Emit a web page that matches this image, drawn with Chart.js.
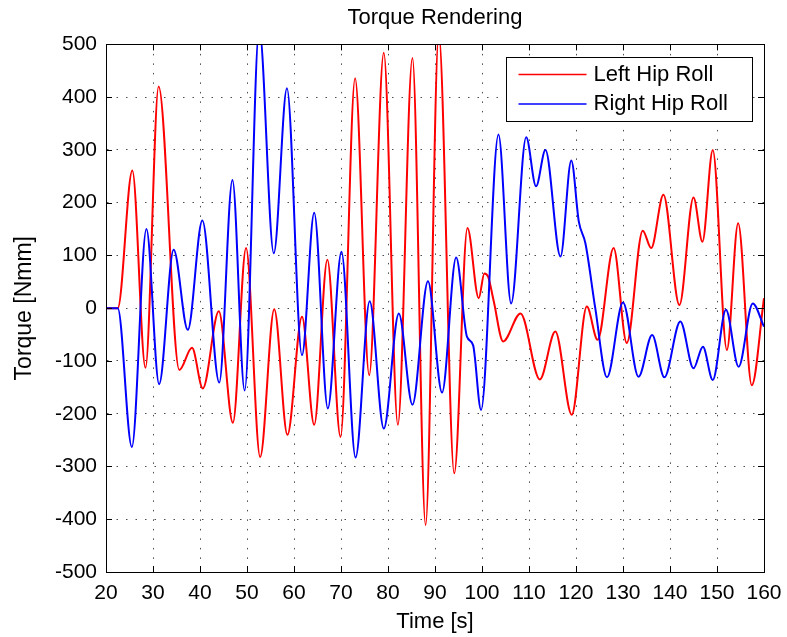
<!DOCTYPE html>
<html>
<head>
<meta charset="utf-8">
<title>Torque Rendering</title>
<script src="https://cdn.jsdelivr.net/npm/chart.js@4"></script>
<style>
  html, body { margin: 0; padding: 0; background: #fff; }
  #wrap { width: 787px; height: 637px; }
</style>
</head>
<body>
<div id="wrap"><canvas id="torqueChart"></canvas></div>
<script>
// Hip roll torque over time, peaks and troughs of each trace
const leftTime = [20, 22.5, 25.6, 28.4, 31.2, 35.6, 38.3, 40.6, 44.0, 47.0, 49.8, 52.8, 55.8, 58.6, 61.7, 64.3, 67.1, 69.9, 73.0, 76.0, 79.1, 82.1, 85.2, 88.0, 90.8, 94.1, 96.9, 99.3, 100.5, 101.3, 102.5, 104.5, 108.2, 112.3, 115.6, 119.1, 122.3, 124.6, 128.0, 130.8, 134.2, 136.0, 138.6, 142.0, 145.0, 146.9, 149.1, 152.1, 154.5, 157.4, 160];
const leftTorque = [0, 0, 261, -113, 420, -117, -75, -152, -6, -217, 114, -282, -2, -240, -16, -221, 92, -244, 436, -127, 484, -221, 474, -411, 520, -313, 152, 19, 66, 60, 13, -63, -10, -135, -44, -202, 3, -60, 114, -66, 147, 114, 215, 6, 210, 126, 300, -79, 161, -146, 19];

const rightTime = [20, 22.5, 25.5, 28.6, 31.3, 34.4, 37.4, 40.5, 44.1, 46.9, 49.5, 52.6, 55.7, 58.5, 61.7, 64.3, 67.2, 70.1, 73.1, 76.1, 79.1, 82.3, 85.2, 88.5, 91.5, 94.5, 96.8, 98.1, 99.8, 103.5, 106.2, 109.4, 111.5, 113.5, 116.7, 119.0, 120.6, 122.0, 124.1, 126.6, 130.0, 133.3, 136.2, 138.8, 142.2, 145.0, 147.0, 149.1, 151.9, 154.6, 157.6, 160];
const rightTorque = [0, 0, -263, 150, -144, 111, -41, 166, -141, 243, -156, 530, 104, 417, -89, 181, -190, 107, -283, 13, -228, -10, -183, 51, -160, 96, -54, -70, -193, 329, 9, 324, 231, 300, 98, 280, 164, 123, 0, -131, 11, -130, -51, -131, -25, -114, -73, -136, -3, -111, 9, -35];

const seriesNames = ["Left Hip Roll", "Right Hip Roll"];
const seriesColors = ["#ff0000", "#0000ff"];

const timeRange = [20, 160];
const torqueRange = [-500, 500];

const FONT = "'Liberation Sans', Arial, Helvetica, sans-serif";
Chart.defaults.font.family = FONT;
Chart.defaults.color = "#000";

function toPoints(xs, ys) {
  return xs.map((x, i) => ({ x: x, y: ys[i] }));
}

// box around the axes with inward tick marks on every side
const axesBox = {
  id: "axesBox",
  afterDraw(chart) {
    const { ctx, chartArea: a, scales } = chart;
    const len = 6;
    ctx.save();
    ctx.strokeStyle = "#000";
    ctx.lineWidth = 1;
    ctx.beginPath();
    scales.x.ticks.forEach((t) => {
      const px = Math.round(scales.x.getPixelForValue(t.value)) + 0.5;
      ctx.moveTo(px, a.bottom);
      ctx.lineTo(px, a.bottom - len);
      ctx.moveTo(px, a.top);
      ctx.lineTo(px, a.top + len);
    });
    scales.y.ticks.forEach((t) => {
      const py = Math.round(scales.y.getPixelForValue(t.value)) + 0.5;
      ctx.moveTo(a.left, py);
      ctx.lineTo(a.left + len, py);
      ctx.moveTo(a.right, py);
      ctx.lineTo(a.right - len, py);
    });
    ctx.stroke();
    ctx.strokeRect(Math.round(a.left) + 0.5, Math.round(a.top) + 0.5,
      Math.round(a.right - a.left), Math.round(a.bottom - a.top));
    ctx.restore();
  },
};

// framed legend in the upper right corner of the plot
const boxLegend = {
  id: "boxLegend",
  afterDraw(chart) {
    const { ctx, chartArea: a } = chart;
    const w = 246, h = 64;
    const x0 = Math.round(a.right - 12 - w) + 0.5;
    const y0 = Math.round(a.top + 13) + 0.5;
    ctx.save();
    ctx.fillStyle = "#fff";
    ctx.fillRect(x0, y0, w, h);
    ctx.strokeStyle = "#000";
    ctx.lineWidth = 1;
    ctx.strokeRect(x0, y0, w, h);
    ctx.font = "22px " + FONT;
    ctx.textBaseline = "middle";
    ctx.textAlign = "left";
    chart.data.datasets.forEach((ds, i) => {
      const yy = y0 + 17 + i * 29.5;
      ctx.strokeStyle = ds.borderColor;
      ctx.lineWidth = 1.3;
      ctx.beginPath();
      ctx.moveTo(x0 + 12, yy);
      ctx.lineTo(x0 + 80, yy);
      ctx.stroke();
      ctx.fillStyle = "#000";
      ctx.fillText(ds.label, x0 + 87, yy);
    });
    ctx.restore();
  },
};

const gridStyle = {
  color: "rgba(0,0,0,0.7)",
  lineWidth: 1,
  drawTicks: false,
};

new Chart(document.getElementById("torqueChart").getContext("2d"), {
  type: "line",
  data: {
    datasets: [
      {
        label: seriesNames[0],
        data: toPoints(leftTime, leftTorque),
        borderColor: seriesColors[0],
        borderWidth: 2,
        pointRadius: 0,
        cubicInterpolationMode: "monotone",
        clip: 0,
        order: 1,
      },
      {
        label: seriesNames[1],
        data: toPoints(rightTime, rightTorque),
        borderColor: seriesColors[1],
        borderWidth: 2,
        pointRadius: 0,
        cubicInterpolationMode: "monotone",
        clip: 0,
        order: 0,
      },
    ],
  },
  options: {
    responsive: true,
    maintainAspectRatio: false,
    animation: false,
    layout: { padding: { left: 0, right: 23, top: 0, bottom: 0 } },
    plugins: {
      legend: { display: false },
      tooltip: { enabled: false },
      title: {
        display: true,
        text: "Torque Rendering",
        fullSize: false,
        font: { size: 22, weight: "normal" },
        color: "#000",
        padding: { top: 5, bottom: 13 },
      },
    },
    scales: {
      x: {
        type: "linear",
        min: timeRange[0],
        max: timeRange[1],
        grid: gridStyle,
        border: { display: true, color: "#000", dash: [1.5, 8] },
        ticks: { stepSize: 10, padding: 9, font: { size: 21 }, maxRotation: 0 },
        title: {
          display: true,
          text: "Time [s]",
          font: { size: 22 },
          padding: { top: 0, bottom: 2 },
        },
        afterFit(scale) {
          scale.height = 65;
          // end labels may hang past the plot edges
          scale.paddingLeft = 0;
          scale.paddingRight = 0;
        },
      },
      y: {
        min: torqueRange[0],
        max: torqueRange[1],
        grid: gridStyle,
        border: { display: true, color: "#000", dash: [1.5, 8] },
        ticks: { stepSize: 100, padding: 9, font: { size: 21 } },
        title: {
          display: true,
          text: "Torque [Nmm]",
          font: { size: 23 },
          padding: { top: 11, bottom: 0 },
        },
        afterFit(scale) {
          scale.width = 106;
        },
      },
    },
  },
  plugins: [axesBox, boxLegend],
});
</script>
</body>
</html>
